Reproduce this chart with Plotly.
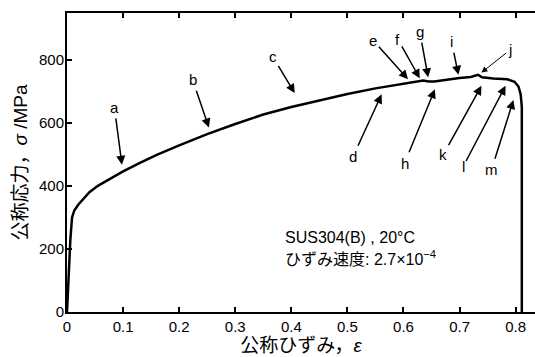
import plotly.graph_objects as go

# Nominal strain / nominal stress curve
strain = [0, 0.003, 0.006, 0.009, 0.013, 0.02, 0.03, 0.04, 0.055, 0.075, 0.1, 0.13,
          0.16, 0.2, 0.25, 0.3, 0.35, 0.4, 0.45, 0.5, 0.55, 0.6, 0.635, 0.645, 0.655,
          0.7, 0.72, 0.733, 0.74, 0.76, 0.785, 0.798, 0.805, 0.809, 0.811, 0.811]
stress = [0, 120, 230, 300, 322, 340, 361, 380, 400, 420, 446, 473,
          498, 528, 564, 596, 626, 650, 671, 691, 709, 725, 734, 731, 731,
          742, 745, 752, 744, 740, 738, 730, 715, 690, 650, 0]

# Marker labels: arrow head (strain, stress) and label position (strain, stress)
labels = ["a", "b", "c", "d", "e", "f", "g", "h", "i", "j", "k", "l", "m"]
head_x = [0.098, 0.253, 0.406, 0.561, 0.608, 0.629, 0.644, 0.656, 0.698, 0.739, 0.739, 0.782, 0.796]
head_y = [467, 585, 694, 690, 738, 741, 744, 706, 752, 759, 717, 717, 672]
lab_x = [0.0845, 0.224, 0.367, 0.51, 0.5457, 0.590, 0.629, 0.602, 0.6857, 0.79, 0.6707, 0.7064, 0.757]
lab_y = [649, 736, 810, 493, 862, 865, 889, 472, 857, 831, 498, 461, 451]

xticks = [0, 0.1, 0.2, 0.3, 0.4, 0.5, 0.6, 0.7, 0.8]
xticktext = ["0", "0.1", "0.2", "0.3", "0.4", "0.5", "0.6", "0.7", "0.8"]
yticks = [0, 200, 400, 600, 800]

FONT = "Liberation Sans, Arial, Noto Sans CJK JP"

fig = go.Figure()
fig.add_trace(go.Scatter(x=strain, y=stress, mode="lines",
                         line=dict(color="black", width=2.5), showlegend=False,
                         hoverinfo="skip"))

annotations = []
for lab, hx, hy, lx, ly in zip(labels, head_x, head_y, lab_x, lab_y):
    annotations.append(dict(
        x=hx, y=hy, xref="x", yref="y",
        ax=lx, ay=ly, axref="x", ayref="y",
        text=lab, showarrow=True, arrowhead=2, arrowsize=1.2,
        arrowwidth=1.0 if lab == "j" else 1.5, arrowcolor="black",
        standoff=0, startstandoff=2,
        font=dict(family=FONT, size=15, color="black"),
        borderpad=0,
    ))

annotations.append(dict(x=0.3845, y=235, xref="x", yref="y", xanchor="left", yanchor="middle",
                        text="SUS304(B) , 20°C", showarrow=False,
                        font=dict(family=FONT, size=16, color="black")))
annotations.append(dict(x=0.3845, y=172, xref="x", yref="y", xanchor="left", yanchor="middle",
                        text="ひずみ速度: 2.7×10<sup>−4</sup>", showarrow=False,
                        font=dict(family=FONT, size=16, color="black")))

fig.update_layout(
    width=535, height=357,
    margin=dict(l=67, r=0, t=13, b=45),
    paper_bgcolor="white", plot_bgcolor="white",
    font=dict(family=FONT, size=15, color="black"),
    annotations=annotations,
    xaxis=dict(range=[0, 0.8345], tickvals=xticks, ticktext=xticktext,
               ticks="inside", ticklen=5, tickwidth=2, tickcolor="black",
               showline=True, linecolor="black", linewidth=2, mirror="ticks",
               showgrid=False, zeroline=False,
               tickfont=dict(family=FONT, size=15),
               title=dict(text="公称ひずみ，<i>ε</i>", font=dict(family=FONT, size=19), standoff=2)),
    yaxis=dict(range=[0, 948], tickvals=yticks,
               ticks="inside", ticklen=5, tickwidth=2, tickcolor="black",
               showline=True, linecolor="black", linewidth=2, mirror=False,
               showgrid=False, zeroline=False, ticklabelstandoff=-2,
               tickfont=dict(family=FONT, size=15),
               title=dict(text="公称応力，<i>σ</i> /MPa", font=dict(family=FONT, size=19), standoff=6)),
)

fig.write_html("out.html")
